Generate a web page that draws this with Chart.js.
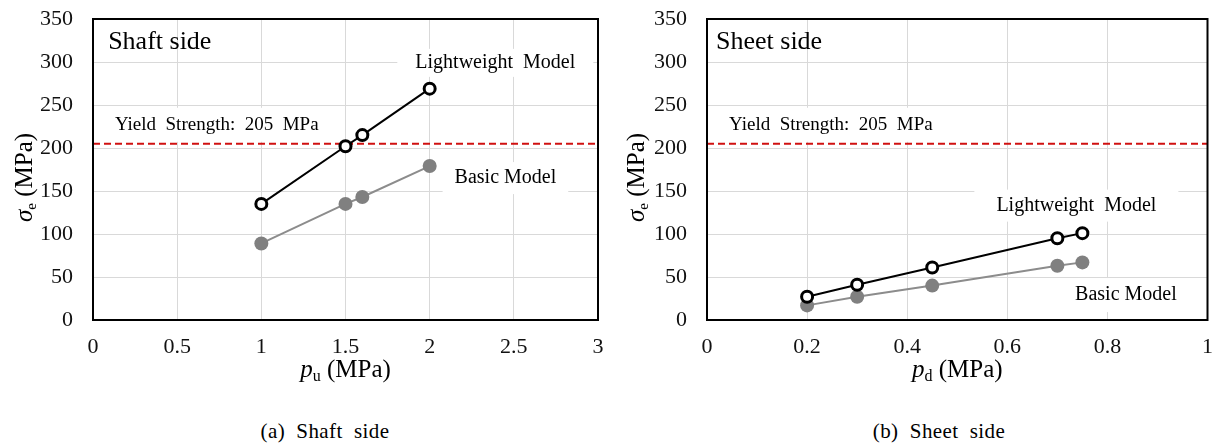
<!DOCTYPE html>
<html>
<head>
  <title>Equivalent stress vs pressure</title>
  <style>
    body {
      margin: 0;
      padding: 0;
      background: #fff;
      width: 1216px;
      height: 444px;
      overflow: hidden;
      position: relative;
      font-family: "Liberation Serif", "Times New Roman", serif;
    }
    canvas {
      position: absolute;
      top: 0;
    }
    #chartShaft { left: 0; }
    #chartSheet { left: 604px; }
    .caption {
      position: absolute;
      top: 419px;
      font-size: 21px;
      letter-spacing: 0.4px;
      color: #000;
      white-space: pre;
      transform: translateX(-50%);
    }
  </style>
</head>
<body>

<canvas id="chartShaft" width="608" height="400"></canvas>
<canvas id="chartSheet" width="612" height="400"></canvas>
<div class="caption" style="left: 325px;">(a)  Shaft  side</div>
<div class="caption" style="left: 939px;">(b)  Sheet  side</div>

<script src="https://cdn.jsdelivr.net/npm/chart.js"></script>
<script>
  // valores (MPa)
  const shaftP = [1, 1.5, 1.6, 2];
  const shaftLight = [135, 202, 215, 269];
  const shaftBasic = [89, 135, 143, 179];

  const sheetP = [0.2, 0.3, 0.45, 0.7, 0.75];
  const sheetLight = [27, 41, 61, 95, 101];
  const sheetBasic = [17, 27, 40, 63, 67];

  const yieldStrength = 205;

  const shaftXTicks = [0, 0.5, 1, 1.5, 2, 2.5, 3];
  const sheetXTicks = [0, 0.2, 0.4, 0.6, 0.8, 1];
  const yTicks = [0, 50, 100, 150, 200, 250, 300, 350];

  const FONT = '"Liberation Serif", "Times New Roman", serif';

  function pts(xs, ys) {
    return xs.map((x, i) => ({ x: x, y: ys[i] }));
  }

  // desenha texto com partes (itálico, subscrito)
  function drawRich(ctx, parts, x, y) {
    let total = 0;
    parts.forEach(p => { ctx.font = p.font; total += ctx.measureText(p.t).width; });
    let cx = x - total / 2;
    parts.forEach(p => {
      ctx.font = p.font;
      ctx.fillText(p.t, cx, y + (p.dy || 0));
      cx += ctx.measureText(p.t).width;
    });
  }

  const overlay = {
    id: 'overlay',
    beforeDatasetsDraw(chart, args, o) {
      const ctx = chart.ctx;
      const xs = chart.scales.x, ys = chart.scales.y;
      ctx.save();
      o.labels.forEach(l => {
        ctx.font = l.size + 'px ' + FONT;
        const w = ctx.measureText(l.text).width;
        const px = xs.getPixelForValue(l.x);
        const py = ys.getPixelForValue(l.y);
        const left = l.align === 'center' ? px - w / 2 : px;
        if (l.box) {
          ctx.fillStyle = '#fff';
          ctx.fillRect(left - l.box[0], py - l.box[1], w + 2 * l.box[0], 2 * l.box[1]);
        }
        ctx.fillStyle = '#000';
        ctx.textBaseline = 'middle';
        ctx.textAlign = 'left';
        ctx.fillText(l.text, left, py);
      });
      ctx.restore();
    },
    afterDraw(chart, args, o) {
      const ctx = chart.ctx;
      const a = chart.chartArea;
      ctx.save();
      // moldura preta
      ctx.strokeStyle = '#000';
      ctx.lineWidth = 2;
      ctx.strokeRect(a.left, a.top, a.right - a.left, a.bottom - a.top);

      ctx.fillStyle = '#000';
      ctx.textAlign = 'left';
      ctx.textBaseline = 'alphabetic';
      // título eixo x
      drawRich(ctx, [
        { t: 'p', font: 'italic 25px ' + FONT },
        { t: o.xSub, font: '16px ' + FONT, dy: 4 },
        { t: ' (MPa)', font: '25px ' + FONT }
      ], (a.left + a.right) / 2, 377);

      // título eixo y
      ctx.translate(o.yTitleX, (a.top + a.bottom) / 2 + 8);
      ctx.rotate(-Math.PI / 2);
      drawRich(ctx, [
        { t: 'σ', font: 'italic 25px ' + FONT },
        { t: 'e', font: '15px ' + FONT, dy: 4 },
        { t: ' (MPa)', font: '25px ' + FONT }
      ], 0, 8);
      ctx.restore();
    }
  };

  function makeChart(id, xs, light, basic, xTicks, xMax, chartLeft, padRight, xSub, yTitleX, labels) {
    const ctx = document.getElementById(id).getContext('2d');
    return new Chart(ctx, {
      type: 'scatter',
      data: {
        datasets: [{
          label: 'Lightweight Model',
          data: pts(xs, light),
          showLine: true,
          borderColor: '#000',
          borderWidth: 2,
          pointRadius: 5.5,
          pointBorderWidth: 3,
          pointBackgroundColor: '#fff',
          pointBorderColor: '#000'
        }, {
          label: 'Basic Model',
          data: pts(xs, basic),
          showLine: true,
          borderColor: '#8c8c8c',
          borderWidth: 2,
          pointRadius: 7,
          pointBorderWidth: 0,
          pointBackgroundColor: '#808080'
        }, {
          label: 'Yield Strength',
          data: [{ x: 0, y: yieldStrength }, { x: xMax, y: yieldStrength }],
          showLine: true,
          borderColor: '#d01010',
          borderWidth: 2,
          borderDash: [7, 4],
          pointRadius: 0
        }]
      },
      options: {
        responsive: false,
        devicePixelRatio: 1,
        animation: false,
        layout: {
          padding: { left: 0, top: 19, right: padRight, bottom: 0 }
        },
        plugins: {
          legend: { display: false },
          tooltip: { enabled: false },
          overlay: { labels: labels, xSub: xSub, yTitleX: yTitleX }
        },
        scales: {
          x: {
            type: 'linear',
            min: 0,
            max: xMax,
            afterBuildTicks: s => { s.ticks = xTicks.map(v => ({ value: v })); },
            afterFit: s => { s.height = 80; },
            grid: { color: '#d9d9d9', lineWidth: 1, drawTicks: true, tickLength: 14, tickColor: 'rgba(0,0,0,0)' },
            border: { color: '#000', width: 2 },
            ticks: {
              padding: 0,
              color: '#111',
              font: { family: FONT, size: 22 },
              maxRotation: 0,
              callback: v => String(v)
            }
          },
          y: {
            min: 0,
            max: 350,
            afterBuildTicks: s => { s.ticks = yTicks.map(v => ({ value: v })); },
            afterFit: s => { s.width = chartLeft; },
            grid: { color: '#d9d9d9', lineWidth: 1, drawTicks: true, tickLength: 20, tickColor: 'rgba(0,0,0,0)' },
            border: { color: '#000', width: 2 },
            ticks: {
              padding: 0,
              color: '#111',
              font: { family: FONT, size: 22 }
            }
          }
        }
      },
      plugins: [overlay]
    });
  }

  makeChart('chartShaft', shaftP, shaftLight, shaftBasic, shaftXTicks, 3, 93, 10, 'u', 24, [
    { text: 'Shaft side', x: 0.09, y: 323, size: 26 },
    { text: 'Yield  Strength:  205  MPa', x: 0.13, y: 227, size: 19, box: [10, 17] },
    { text: 'Lightweight  Model', x: 2.39, y: 299, size: 20, align: 'center', box: [18, 14] },
    { text: 'Basic Model', x: 2.45, y: 165, size: 20, align: 'center', box: [12, 16] }
  ]);

  makeChart('chartSheet', sheetP, sheetLight, sheetBasic, sheetXTicks, 1, 103, 6, 'd', 32, [
    { text: 'Sheet side', x: 0.018, y: 323, size: 26 },
    { text: 'Yield  Strength:  205  MPa', x: 0.044, y: 227, size: 19, box: [10, 17] },
    { text: 'Lightweight  Model', x: 0.738, y: 133, size: 20, align: 'center', box: [22, 16] },
    { text: 'Basic Model', x: 0.837, y: 29, size: 20, align: 'center', box: [12, 17] }
  ]);
</script>
</body>
</html>
